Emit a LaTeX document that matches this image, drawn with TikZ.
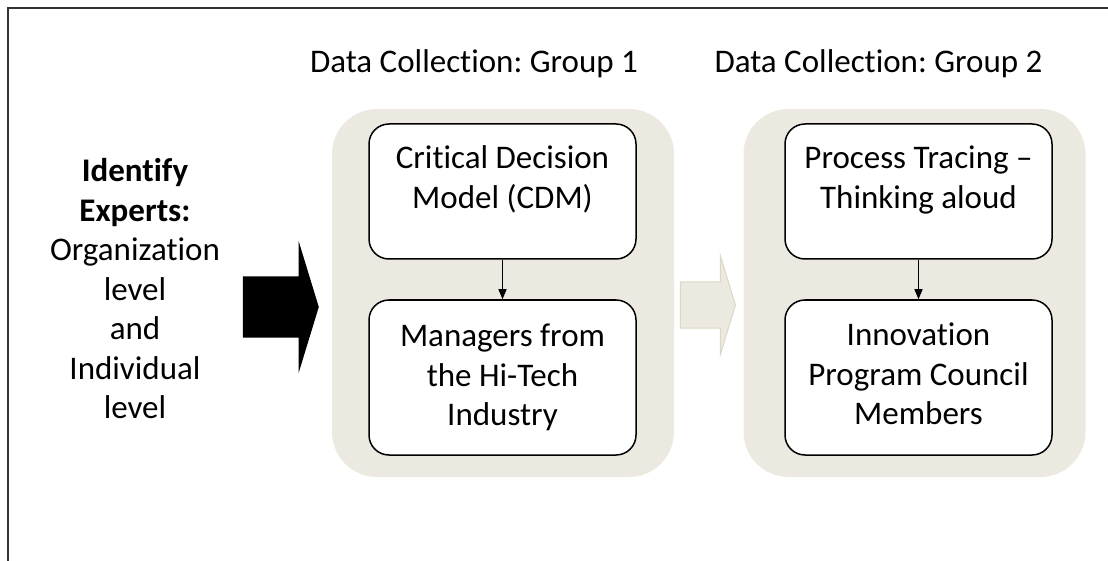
\documentclass[tikz,border=0pt]{standalone}
\usepackage{fontspec}
\setmainfont{Carlito}[Ligatures=NoCommon]
\usetikzlibrary{shapes.arrows, arrows.meta}
\definecolor{beige}{RGB}{236,234,224}
\definecolor{beigeline}{RGB}{220,216,198}
\frenchspacing

\begin{document}
\begin{tikzpicture}[x=1pt, y=-1pt, >={Stealth[length=10pt, width=8pt, inset=0pt]},
    font=\fontsize{33}{39.5}\selectfont,
    groupbg/.style={fill=beige, rounded corners=45pt, minimum width=342pt, minimum height=368pt},
    itembox/.style={draw, fill=white, rounded corners=20pt, line width=1.5pt, minimum width=267pt, align=center},
    blockarrow/.style={single arrow, single arrow tip angle=146, inner xsep=0pt}]
    \useasboundingbox (0,0) rectangle (1108,561);
    % Frame
    \draw[line width=1.5pt, black!80] (8,561) -- (8,8) -- (1108,8);

    % Backgrounds
    \node (G1) [groupbg] at (503,293) {};
    \node (G2) [groupbg, right of=G1, node distance=411.5pt] {};

    % Titles
    \node (T1) at (474,64) {Data Collection: Group 1};
    \node (T2) [right of=T1, node distance=404.5pt] {Data Collection: Group 2};

    % Experts
    \node (experts) [align=center] at (135,289) {\textbf{Identify}\\\textbf{Experts:}\\Organization\\level\\and\\Individual\\level};

    % Block arrows
    \node (bigarrow) [blockarrow, fill=black, minimum height=76pt, inner ysep=30.5pt, single arrow head extend=35pt, anchor=tip] at (319,307) {};
    \node (midarrow) [blockarrow, fill=beige, draw=beigeline, line width=1pt, minimum height=55pt, inner ysep=22.5pt, single arrow head extend=26.5pt, anchor=tip] at (736,305) {};

    % Boxes
    \node (CDM) [itembox, minimum height=135pt, text depth=29pt] at (502.5,191.5) {Critical Decision\\Model (CDM)};
    \node (Mgr) [itembox, minimum height=155pt, below of=CDM, node distance=186pt] {Managers from\\the Hi-Tech\\Industry};
    \node (PT) [itembox, minimum height=135pt, text depth=29pt, right of=CDM, node distance=416pt] {Process Tracing --\\Thinking aloud};
    \node (IPC) [itembox, minimum height=155pt, text depth=7pt, below of=PT, node distance=186pt] {Innovation\\Program Council\\Members};

    % Edges
    \draw[->, line width=1.2pt] (CDM) -- (Mgr);
    \draw[->, line width=1.2pt] (PT) -- (IPC);
\end{tikzpicture}
\end{document}
